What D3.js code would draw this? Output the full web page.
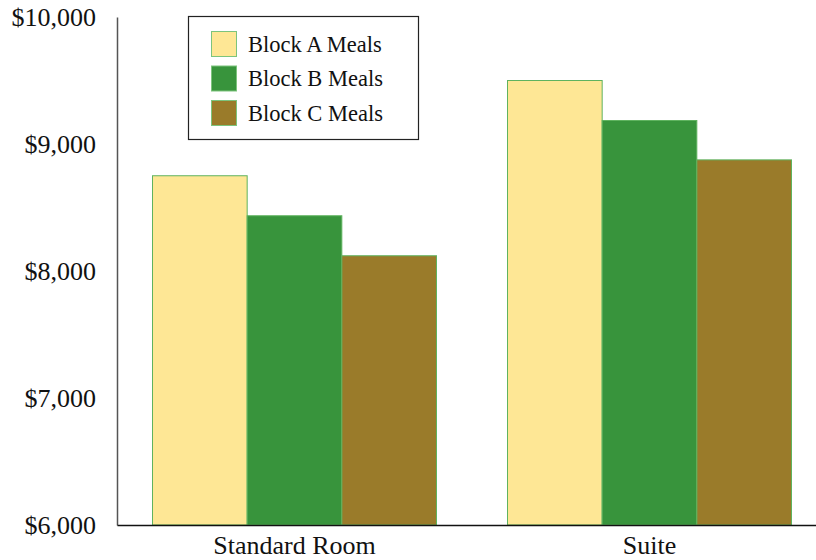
<!DOCTYPE html>
<html><head><meta charset="utf-8">
<script src="https://cdn.jsdelivr.net/npm/d3@7"></script>
<style>body{margin:0;background:#fff}svg{display:block}</style>
</head><body>
<svg id="c" width="816" height="560"></svg>
<script>
const categories = ["Standard Room", "Suite"];
const seriesNames = ["Block A Meals", "Block B Meals", "Block C Meals"];
const blockA = [8750, 9500];
const blockB = [8435, 9185];
const blockC = [8120, 8875];
const yTicks = [6000, 7000, 8000, 9000, 10000];
const colors = ["#fee795", "#38943c", "#9a7b2a"];

const seriesVals = [blockA, blockB, blockC];
const svg = d3.select("#c");
const font = "'Liberation Serif', 'Times New Roman', serif";
const mLeft = 117, mRight = 827, mTop = 17, mBottom = 525;

const x0 = d3.scaleBand().domain(categories).range([mLeft, mRight]).paddingInner(0.2).paddingOuter(0.1);
const x1 = d3.scaleBand().domain(seriesNames).range([0, x0.bandwidth()]);
const y = d3.scaleLinear().domain([6000, 10000]).range([mBottom, mTop]);

// bars
categories.forEach((c, ci) => {
  seriesNames.forEach((s, si) => {
    svg.append("rect")
      .attr("x", x0(c) + x1(s))
      .attr("y", y(seriesVals[si][ci]))
      .attr("width", x1.bandwidth())
      .attr("height", y(6000) - y(seriesVals[si][ci]))
      .attr("fill", colors[si])
      .attr("stroke", "#5fb35f")
      .attr("stroke-width", 1);
  });
});

// y axis
const ya = svg.append("g").attr("transform", `translate(${mLeft},0)`)
  .call(d3.axisLeft(y).tickValues(yTicks).tickSize(0).tickPadding(21).tickFormat(d => "$" + d3.format(",")(d)));
ya.select(".domain").attr("stroke", "#555").attr("stroke-width", 1.5);
ya.selectAll("text").attr("font-family", font).attr("font-size", 26).attr("fill", "#111");

// x axis
const xa = svg.append("g").attr("transform", `translate(0,${mBottom})`)
  .call(d3.axisBottom(x0).tickSize(0).tickPadding(11));
xa.select(".domain").attr("stroke", "#111").attr("stroke-width", 1.5);
xa.selectAll("text").attr("font-family", font).attr("font-size", 26).attr("fill", "#111");

// legend
const lg = svg.append("g");
lg.append("rect").attr("x", 188.5).attr("y", 16.5).attr("width", 230).attr("height", 123)
  .attr("fill", "#fff").attr("stroke", "#222").attr("stroke-width", 1.2);
seriesNames.forEach((s, i) => {
  lg.append("rect").attr("x", 211.5).attr("y", 31.5 + i * 34.5).attr("width", 25).attr("height", 25)
    .attr("fill", colors[i]).attr("stroke", "#7cc47c").attr("stroke-width", 1);
  lg.append("text").attr("x", 248).attr("y", 44 + i * 34.5).attr("dy", "0.35em")
    .attr("font-family", font).attr("font-size", 22.5).attr("fill", "#111").text(s);
});
</script>
</body></html>
